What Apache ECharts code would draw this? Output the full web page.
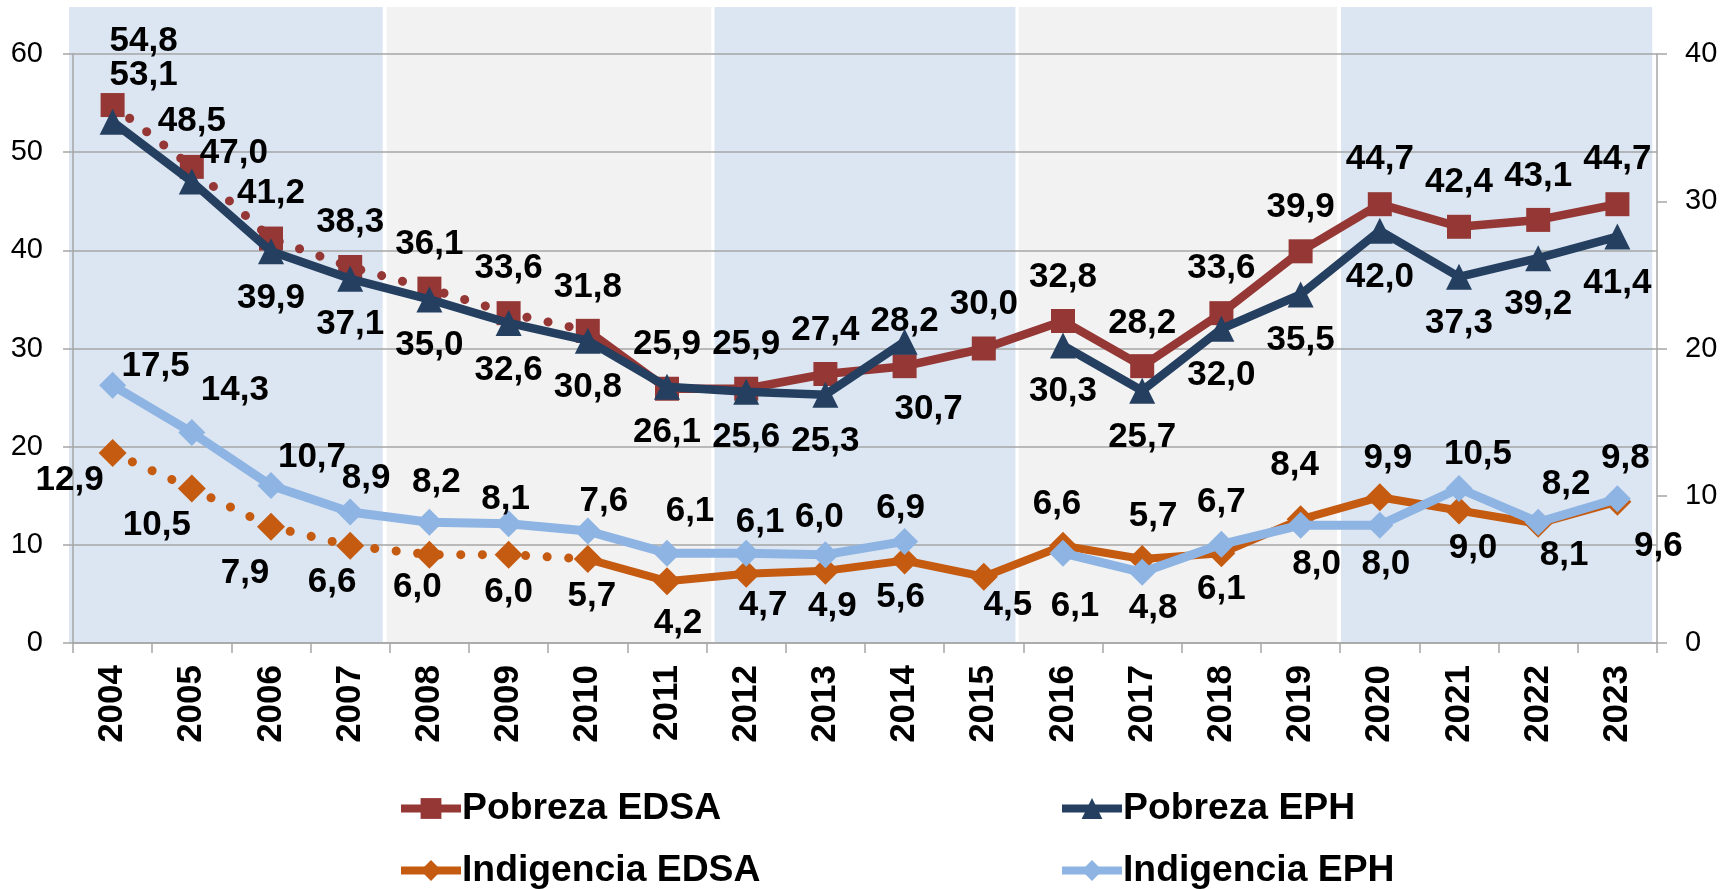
<!DOCTYPE html>
<html>
<head>
<meta charset="utf-8">
<script src="https://cdn.jsdelivr.net/npm/echarts@6/dist/echarts.min.js"></script>
<style>
  html, body { margin: 0; padding: 0; background: #fff; }
  #chart { width: 1736px; height: 889px; }
</style>
</head>
<body>
<div id="chart"></div>
<script>
// datos
var years = ['2004','2005','2006','2007','2008','2009','2010','2011','2012','2013',
             '2014','2015','2016','2017','2018','2019','2020','2021','2022','2023'];
var pobrezaEDSA = [54.8,48.5,41.2,38.3,36.1,33.6,31.8,25.9,25.9,27.4,28.2,30.0,32.8,28.2,33.6,39.9,44.7,42.4,43.1,44.7];
var pobrezaEPH = [53.1,47.0,39.9,37.1,35.0,32.6,30.8,26.1,25.6,25.3,30.7,null,30.3,25.7,32.0,35.5,42.0,37.3,39.2,41.4];
var indigenciaEDSA = [12.9,10.5,7.9,6.6,6.0,6.0,5.7,4.2,4.7,4.9,5.6,4.5,6.6,5.7,6.1,8.4,9.9,9.0,8.1,9.6];
var indigenciaEPH = [17.5,14.3,10.7,8.9,8.2,8.1,7.6,6.1,6.1,6.0,6.9,null,6.1,4.8,6.7,8.0,8.0,10.5,8.2,9.8];
var leftTicks = [0, 60, 10];
var rightTicks = [0, 40, 10];
// fondo por periodos (inicio y fin en unidades de categoria)
var periodStart = [-0.05, 3.96, 8.10, 11.94, 16.01];
var periodEnd = [3.91, 8.06, 11.90, 15.96, 19.94];
var lastDotted = 6; // 2010: hasta aca linea punteada en EDSA

// desplazamiento de etiquetas (px, centro del texto respecto al punto)
var offPobEDSA = [[31,-64],[0,-46],[0,-45],[0,-45],[0,-44],[0,-45],[0,-43],[0,-44],[0,-44],[0,-44],
                  [0,-45],[0,-44],[0,-44],[0,-43],[0,-45],[0,-44],[0,-45],[0,-44],[0,-44],[0,-45]];
var offPobEPH = [[31,-46],[42,-28],[0,47],[0,46],[0,46],[0,47],[0,47],[0,46],[0,46],[0,47],
                 [24,68],null,[0,46],[0,47],[0,46],[0,46],[0,47],[0,47],[0,46],[0,47]];
var offIndEDSA = [[-43,27],[-35,37],[-26,47],[-18,37],[-12,33],[0,38],[4,37],[11,42],[17,32],[7,35],
                  [-4,37],[24,29],[-6,-41],[11,-43],[0,36],[-6,-54],[8,-39],[14,38],[26,32],[41,45]];
var offIndEPH = [[43,-19],[43,-42],[41,-28],[16,-34],[7,-40],[-3,-24],[16,-30],[23,-42],[14,-31],[-6,-37],
                 [-4,-33],null,[12,53],[11,36],[0,-42],[16,39],[6,39],[19,-34],[28,-38],[8,-40]];

function fmt(v) { return v.toFixed(1).replace('.', ','); }

// arma los puntos de una serie entre los indices from..to
function pts(values, offs, from, to, skipLast) {
    return values.map(function (v, i) {
        if (v == null || i < from || i > to) return '-';
        if (skipLast && i === to) return { value: v, symbol: 'none', label: { show: false } };
        return { value: v, label: { offset: offs[i] } };
    });
}

var font = 'Liberation Sans, Arial, sans-serif';
var labelStyle = {
    show: true,
    position: 'inside',
    formatter: function (p) { return fmt(p.value); },
    color: '#000',
    fontFamily: font,
    fontWeight: 'bold',
    fontSize: 35
};

var red = '#953735', navy = '#243F60', orange = '#C55A11', sky = '#8EB4E3';
var bandColors = ['#DCE6F2', '#F2F2F2'];

var chart = echarts.init(document.getElementById('chart'));
var option = {
    animation: false,
    backgroundColor: '#fff',
    grid: [
        { left: 73, right: 79, top: 54, bottom: 246, outerBoundsMode: 'none' },
        { left: 73, right: 79, top: 7, bottom: 246, outerBoundsMode: 'none' }
    ],
    legend: [
        { data: ['Pobreza EDSA'], left: 397, top: 790 },
        { data: ['Pobreza EPH'], left: 1058, top: 790 },
        { data: ['Indigencia EDSA'], left: 397, top: 852 },
        { data: ['Indigencia EPH'], left: 1058, top: 852 }
    ].map(function (l) {
        l.itemWidth = 60; l.itemHeight = 26; l.padding = 0; l.itemGap = 0;
        l.lineStyle = { width: 8 };
        l.textStyle = { fontFamily: font, fontWeight: 'bold', fontSize: 37.3, color: '#000', padding: [0, 0, 0, -4] };
        return l;
    }),
    xAxis: [
        {
            type: 'category', gridIndex: 0, data: years, z: 3,
            axisLine: { lineStyle: { color: '#A6A6A6', width: 1.5 } },
            axisTick: { show: true, length: 10, lineStyle: { color: '#A6A6A6', width: 1.5 } },
            axisLabel: { rotate: 90, margin: 22, color: '#000', fontFamily: font, fontWeight: 'bold', fontSize: 35 },
            splitLine: { show: false }
        },
        { type: 'value', gridIndex: 1, min: 0, max: years.length, show: false }
    ],
    yAxis: [
        {
            type: 'value', gridIndex: 0, min: leftTicks[0], max: leftTicks[1], interval: leftTicks[2], z: 3,
            axisLine: { show: true, lineStyle: { color: '#A6A6A6', width: 1.5 } },
            axisTick: { show: true, length: 10, lineStyle: { color: '#A6A6A6', width: 1.5 } },
            axisLabel: { margin: 30, color: '#000', fontFamily: font, fontSize: 29 },
            splitLine: { show: true, lineStyle: { color: '#A6A6A6', width: 1.5 } }
        },
        {
            type: 'value', gridIndex: 0, position: 'right', min: rightTicks[0], max: rightTicks[1],
            interval: rightTicks[2], z: 3,
            axisLine: { show: true, lineStyle: { color: '#A6A6A6', width: 1.5 } },
            axisTick: { show: true, length: 10, lineStyle: { color: '#A6A6A6', width: 1.5 } },
            axisLabel: { margin: 28, color: '#000', fontFamily: font, fontSize: 29 },
            splitLine: { show: false }
        },
        { type: 'value', gridIndex: 1, min: 0, max: 1, show: false }
    ],
    series: [
        {
            name: 'Pobreza EDSA', type: 'line', xAxisIndex: 0, yAxisIndex: 0, z: 5,
            data: pts(pobrezaEDSA, offPobEDSA, lastDotted, years.length - 1),
            symbol: 'rect', symbolSize: 24, color: red,
            lineStyle: { color: red, width: 8.5 }, label: labelStyle
        },
        {
            name: 'Pobreza EPH', type: 'line', xAxisIndex: 0, yAxisIndex: 0, z: 6,
            data: pts(pobrezaEPH, offPobEPH, 0, years.length - 1),
            symbol: 'triangle', symbolSize: 26, color: navy,
            lineStyle: { color: navy, width: 8.5 }, label: labelStyle
        },
        {
            name: 'Indigencia EDSA', type: 'line', xAxisIndex: 0, yAxisIndex: 1, z: 5,
            data: pts(indigenciaEDSA, offIndEDSA, lastDotted, years.length - 1),
            symbol: 'diamond', symbolSize: 28, color: orange,
            lineStyle: { color: orange, width: 8 }, label: labelStyle
        },
        {
            name: 'Indigencia EPH', type: 'line', xAxisIndex: 0, yAxisIndex: 1, z: 6,
            data: pts(indigenciaEPH, offIndEPH, 0, years.length - 1),
            symbol: 'diamond', symbolSize: 27, color: sky,
            lineStyle: { color: sky, width: 9 }, label: labelStyle
        },
        {
            name: 'Pobreza EDSA', type: 'line', xAxisIndex: 0, yAxisIndex: 0, z: 4,
            data: pts(pobrezaEDSA, offPobEDSA, 0, lastDotted, true),
            symbol: 'rect', symbolSize: 24, color: red,
            lineStyle: { color: red, width: 9, type: [0.1, 21.5], cap: 'round' }, label: labelStyle
        },
        {
            name: 'Indigencia EDSA', type: 'line', xAxisIndex: 0, yAxisIndex: 1, z: 4,
            data: pts(indigenciaEDSA, offIndEDSA, 0, lastDotted, true),
            symbol: 'diamond', symbolSize: 28, color: orange,
            lineStyle: { color: orange, width: 9, type: [0.1, 21.5], cap: 'round' }, label: labelStyle
        },
        {
            name: 'periodos', type: 'custom', xAxisIndex: 1, yAxisIndex: 2, z: 1, silent: true, clip: false,
            data: periodStart.map(function (s, i) { return [s, periodEnd[i]]; }),
            renderItem: function (params, api) {
                var p0 = api.coord([api.value(0), 1]);
                var p1 = api.coord([api.value(1), 0]);
                return {
                    type: 'rect',
                    shape: { x: p0[0], y: p0[1], width: p1[0] - p0[0], height: p1[1] - p0[1] },
                    style: { fill: bandColors[params.dataIndex % 2] }
                };
            }
        }
    ]
};
chart.setOption(option);
</script>
</body>
</html>
